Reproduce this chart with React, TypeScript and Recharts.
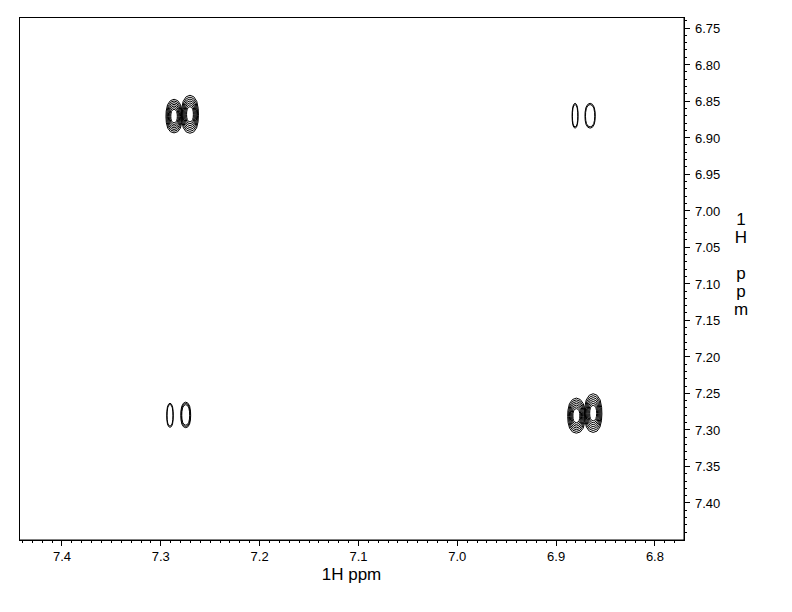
import React from "react";
import { ScatterChart, Scatter, XAxis, YAxis, ReferenceArea } from "recharts";

// axis ticks (ppm) and their labels
const xMajorTicks = [7.4, 7.3, 7.2, 7.1, 7.0, 6.9, 6.8];
const xTickLabels = ["7.4", "7.3", "7.2", "7.1", "7.0", "6.9", "6.8"];
const yMajorTicks = [6.75, 6.8, 6.85, 6.9, 6.95, 7.0, 7.05, 7.1, 7.15, 7.2, 7.25, 7.3, 7.35, 7.4];
const yTickLabels = ["6.75", "6.80", "6.85", "6.90", "6.95", "7.00", "7.05", "7.10", "7.15", "7.20", "7.25", "7.30", "7.35", "7.40"];

// cross peak lobes: centre (F2, F1), half width, half height (ppm), number of contour levels
const lobeX = [7.2866, 7.2705, 6.8795, 6.8625, 6.8808, 6.8656, 7.2907, 7.2748];
const lobeY = [6.8705, 6.8680, 7.2805, 7.2770, 6.8700, 6.8700, 7.2800, 7.2795];
const lobeHalfWidth = [0.0082, 0.0086, 0.0088, 0.0088, 0.0030, 0.0052, 0.0033, 0.0050];
const lobeHalfHeight = [0.0230, 0.0260, 0.0240, 0.0265, 0.0170, 0.0170, 0.0165, 0.0175];
const lobeLevels = [7, 7, 7, 7, 2, 2, 2, 3];

// contour level sizes relative to the outer contour
const contourScales = [1, 0.9, 0.8, 0.7, 0.6, 0.5, 0.4];

// outline of one lobe (unit units, v grows downwards in ppm)
const lobeOutline: [number, number][] = [
  [0, -1], [0.45, -0.92], [0.8, -0.68], [0.97, -0.3], [1, 0.05], [0.95, 0.4],
  [0.78, 0.72], [0.45, 0.93], [0, 1], [-0.45, 0.93], [-0.78, 0.72], [-0.95, 0.4],
  [-1, 0.05], [-0.97, -0.3], [-0.8, -0.68], [-0.45, -0.92], [0, -1],
];

const xDomain: [number, number] = [6.7706, 7.4435];
const yDomain: [number, number] = [6.7349, 7.4507];

const hundredths = (from: number, to: number) => {
  const out: number[] = [];
  for (let i = from; i <= to; i++) out.push(i / 100);
  return out;
};
const xTicks = hundredths(678, 744);
const yTicks = hundredths(674, 744);

const findLabel = (v: number, ticks: number[], labels: string[]) => {
  const i = ticks.findIndex((t) => Math.abs(t - v) < 1e-6);
  return i >= 0 ? labels[i] : null;
};

const rings = lobeX.flatMap((cx, i) =>
  contourScales.slice(0, lobeLevels[i]).map((s) =>
    lobeOutline.map(([u, v]) => ({
      x: cx + u * lobeHalfWidth[i] * s,
      y: lobeY[i] + v * lobeHalfHeight[i] * s,
    }))
  )
);

const font = "'Liberation Sans', Arial, sans-serif";

const XTick = (props: any) => {
  const { x, y, payload } = props;
  const label = findLabel(payload.value, xMajorTicks, xTickLabels);
  return (
    <g>
      <line x1={x} x2={x} y1={y} y2={y + (label ? 6 : 3)} stroke="#000" shapeRendering="crispEdges" />
      {label && (
        <text x={x} y={y + 21} textAnchor="middle" fontSize={13} fontFamily={font} fill="#000">
          {label}
        </text>
      )}
    </g>
  );
};

const YTick = (props: any) => {
  const { x, y, payload } = props;
  const label = findLabel(payload.value, yMajorTicks, yTickLabels);
  return (
    <g>
      <line x1={x} x2={x + (label ? 6 : 3)} y1={y} y2={y} stroke="#000" shapeRendering="crispEdges" />
      {label && (
        <text x={x + 11} y={y + 5} textAnchor="start" fontSize={13} fontFamily={font} fill="#000">
          {label}
        </text>
      )}
    </g>
  );
};

const XTitle = (props: any) => {
  const { x, y, width } = props.viewBox;
  return (
    <text x={x + width / 2} y={y + 40} textAnchor="middle" fontSize={17} fontFamily={font} fill="#000">
      1H ppm
    </text>
  );
};

const YTitle = (props: any) => {
  const { x, y } = props.viewBox;
  const lines = ["1", "H", "", "p", "p", "m"];
  return (
    <text x={x + 57} y={y + 208} textAnchor="middle" fontSize={17} fontFamily={font} fill="#000">
      {lines.map((l, i) => (
        <tspan key={i} x={x + 57} dy={i === 0 ? 0 : 18}>
          {l || "\u00a0"}
        </tspan>
      ))}
    </text>
  );
};

const NoDot = () => <g />;

export default function App() {
  return (
    <div style={{ position: "absolute", left: 0, top: 0, background: "#fff" }}>
      <ScatterChart width={792} height={612} margin={{ top: 17, left: 19, right: 48, bottom: 32 }}>
        <XAxis
          type="number"
          dataKey="x"
          domain={xDomain}
          reversed
          allowDataOverflow
          ticks={xTicks}
          interval={0}
          tickSize={0}
          tickMargin={0}
          tickLine={false}
          tick={<XTick />}
          axisLine={{ stroke: "#000" }}
          height={40}
          label={<XTitle />}
        />
        <YAxis
          type="number"
          dataKey="y"
          orientation="right"
          domain={yDomain}
          reversed
          allowDataOverflow
          ticks={yTicks}
          interval={0}
          tickSize={0}
          tickMargin={0}
          tickLine={false}
          tick={<YTick />}
          axisLine={{ stroke: "#000" }}
          width={60}
          label={<YTitle />}
        />
        <ReferenceArea
          x1={xDomain[0]}
          x2={xDomain[1]}
          y1={yDomain[0]}
          y2={yDomain[1]}
          fill="none"
          stroke="#000"
          strokeWidth={1}
          shapeRendering="crispEdges"
          ifOverflow="visible"
        />
        {rings.map((ring, i) => (
          <Scatter
            key={i}
            data={ring}
            line={{ stroke: "#000", strokeWidth: 1 }}
            lineType="joint"
            shape={<NoDot />}
            isAnimationActive={false}
            legendType="none"
          />
        ))}
      </ScatterChart>
    </div>
  );
}
